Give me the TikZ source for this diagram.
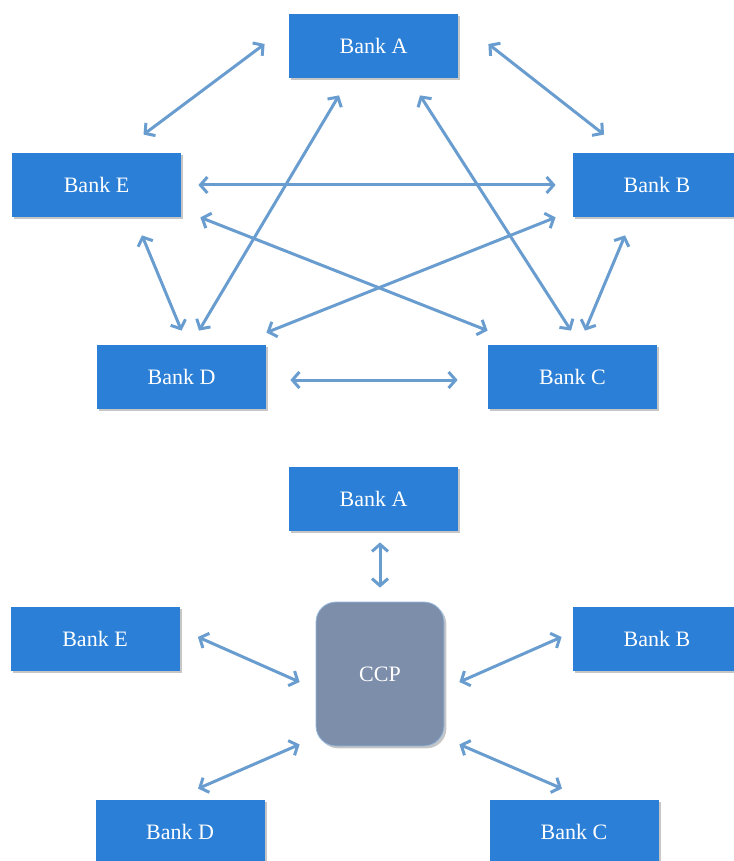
\documentclass[tikz,border=0pt]{standalone}
\usepackage{fontspec}
\setmainfont{Liberation Serif}
\usetikzlibrary{calc,arrows.meta,shadows}
\definecolor{bankblue}{RGB}{43,127,214}
\definecolor{linkblue}{RGB}{105,157,207}
\definecolor{ccpgrey}{RGB}{125,142,170}
\begin{document}
\begin{tikzpicture}[x=0.5pt, y=-0.5pt,
	bank/.style = {fill=bankblue, text=white, minimum width=84.5pt, minimum height=32pt, inner sep=0pt, font=\fontsize{11}{13}\selectfont, drop shadow={shadow xshift=1.2pt, shadow yshift=-1.2pt, opacity=0.45}},
	ccp/.style = {fill=ccpgrey, draw=linkblue!70, rounded corners=10pt, text=white, minimum width=64pt, minimum height=72pt, inner sep=0pt, font=\fontsize{11}{13}\selectfont, drop shadow={shadow xshift=1.2pt, shadow yshift=-1.2pt, opacity=0.45}},
	link/.style = {linkblue, line width=1.5pt, {Straight Barb[length=3.5pt,width=8pt]}-{Straight Barb[length=3.5pt,width=8pt]}}]
	\useasboundingbox (0,0) rectangle (733,861);
	%Pankit, ylhaalla
	\node[bank] (A) at (373.5,46) {Bank A};
	\node[bank] (B) at (657,185) {Bank B};
	\node[bank] (C) at (572.5,377) {Bank C};
	\node[bank] (D) at (181.5,377) {Bank D};
	\node[bank] (E) at (96.5,185) {Bank E};
	% Yhteydet
	\draw [link] ($(A.west)+(-24,-2)$) -- ($(E.north)+(47,-18)$);	% AE
	\draw [link] ($(A.east)+(30,-2)$) -- ($(B.north)+(-53,-18)$);	% AB
	\draw [link] ($(A.south)+(-34.5,17)$) -- ($(D.north)+(17.5,-14)$);	% AD
	\draw [link] ($(A.south)+(46.5,17)$) -- ($(C.north)+(-1.5,-14)$);	% AC
	\draw [link] ($(E.east)+(17,0)$) -- ($(B.west)+(-16.5,0)$);	% EB
	\draw [link] ($(E.south east)+(19,0)$) -- ($(C.north west)+(0,-14)$);	% EC
	\draw [link] ($(B.south west)+(-16.5,0)$) -- ($(D.north east)+(0,-12)$);	% BD
	\draw [link] ($(E.south)+(45.5,18)$) -- ($(D.north)+(0,-14)$);	% ED
	\draw [link] ($(B.south)+(-32,18)$) -- ($(C.north)+(12.5,-14)$);	% BC
	\draw [link] ($(D.east)+(24,3)$) -- ($(C.west)+(-30,3)$);	% DC
	%Pankit ja CCP, alhaalla
	\node[bank] (A2) at (373.5,499) {Bank A};
	\node[bank] (B2) at (657,639) {Bank B};
	\node[bank] (C2) at (574,832) {Bank C};
	\node[bank] (D2) at (180,832) {Bank D};
	\node[bank] (E2) at (95,639) {Bank E};
	\node[ccp] (CCP) at (380,674) {CCP};
	% Yhteydet
	\draw [link] ($(A2.south)+(6.5,11)$) -- ($(CCP.north)+(0,-14)$);	% A2-CCP
	\draw [link] ($(E2.east)+(18,-2)$) -- ($(CCP.west)+(-16,8)$);	% E2-CCP
	\draw [link] ($(B2.west)+(-10.5,-2)$) -- ($(CCP.east)+(15,8)$);	% B2-CCP
	\draw [link] ($(D2.north)+(18,-11)$) -- ($(CCP.south west)+(-16,-2)$);	% D2-CCP
	\draw [link] ($(C2.north)+(-12,-11)$) -- ($(CCP.south east)+(15,-2)$);	% C2-CCP
\end{tikzpicture}
\end{document}
